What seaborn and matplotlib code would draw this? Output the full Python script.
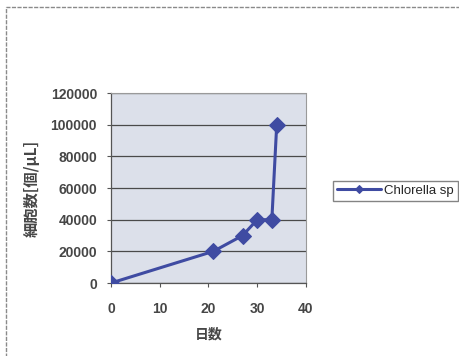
import matplotlib
matplotlib.use("Agg")
import matplotlib.pyplot as plt
from matplotlib.patches import Rectangle
import seaborn as sns
import pandas as pd

# Culture growth of Chlorella sp.
days = [0, 21, 27, 30, 33, 34]
cells = [0, 20000, 30000, 40000, 40000, 100000]
series_name = "Chlorella sp"
x_ticks = [0, 10, 20, 30, 40]
y_ticks = [0, 20000, 40000, 60000, 80000, 100000, 120000]

sns.set_theme(style="white")
plt.rcParams["font.family"] = ["Liberation Sans", "Noto Sans CJK JP", "DejaVu Sans"]

df = pd.DataFrame({"日数": days, "細胞数": cells, "系列": series_name})

fig = plt.figure(figsize=(4.59, 3.56), dpi=100)
fig.patch.set_facecolor("white")
ax = fig.add_axes([0.2418, 0.205, 0.4248, 0.5337])
ax.set_facecolor("#dce0ea")

line_color = "#3f4ba2"
sns.lineplot(data=df, x="日数", y="細胞数", hue="系列", palette=[line_color],
             marker="D", markersize=8, linewidth=2.2, markeredgecolor=line_color,
             ax=ax, legend=True, zorder=3)

ax.set_xlim(0, 40)
ax.set_ylim(0, 120000)
ax.set_xticks(x_ticks)
ax.set_yticks(y_ticks)
tick_font = dict(fontsize=10, color="#464646", fontweight="bold")
ax.set_xticklabels([str(v) for v in x_ticks], **tick_font)
ax.set_yticklabels([str(v) for v in y_ticks], **tick_font)
ax.tick_params(axis="x", length=3, width=0.8, color="#555555", pad=11, bottom=True)
ax.tick_params(axis="y", length=3, width=0.8, color="#555555", pad=7, left=True)

ax.yaxis.grid(True, color="#4a4a4a", linewidth=0.9)
ax.set_axisbelow(True)
for side in ["top", "right"]:
    ax.spines[side].set_color("#9a9a9a")
    ax.spines[side].set_linewidth(0.8)
    ax.spines[side].set_linestyle((0, (2, 1)))
for side in ["left", "bottom"]:
    ax.spines[side].set_color("#555555")
    ax.spines[side].set_linewidth(0.9)

cjk = ["Noto Sans CJK JP", "DejaVu Sans"]
ax.set_xlabel("日数", fontsize=10, color="#464646", fontweight="bold",
              family=cjk, labelpad=8)
ax.set_ylabel("細胞数[個/μL]", fontsize=11, color="#464646", fontweight="bold",
              family=cjk, labelpad=8)

handles, labels = ax.get_legend_handles_labels()
ax.legend(handles, labels, loc="center left", bbox_to_anchor=(1.105, 0.485),
          prop={"family": "Liberation Sans", "size": 9.5},
          frameon=True, fancybox=False, edgecolor="#666666",
          handlelength=3.3, borderpad=0.3, handletextpad=0.3, markerscale=0.55)

# chart-area border
fig.patches.append(Rectangle((6 / 459, -0.05), 1.05, (356 - 7) / 356 + 0.05,
                             transform=fig.transFigure, fill=False,
                             edgecolor="#8a8a8a", linewidth=1.0, linestyle=(0, (3, 1))))

fig.savefig("out.png", dpi=100)
